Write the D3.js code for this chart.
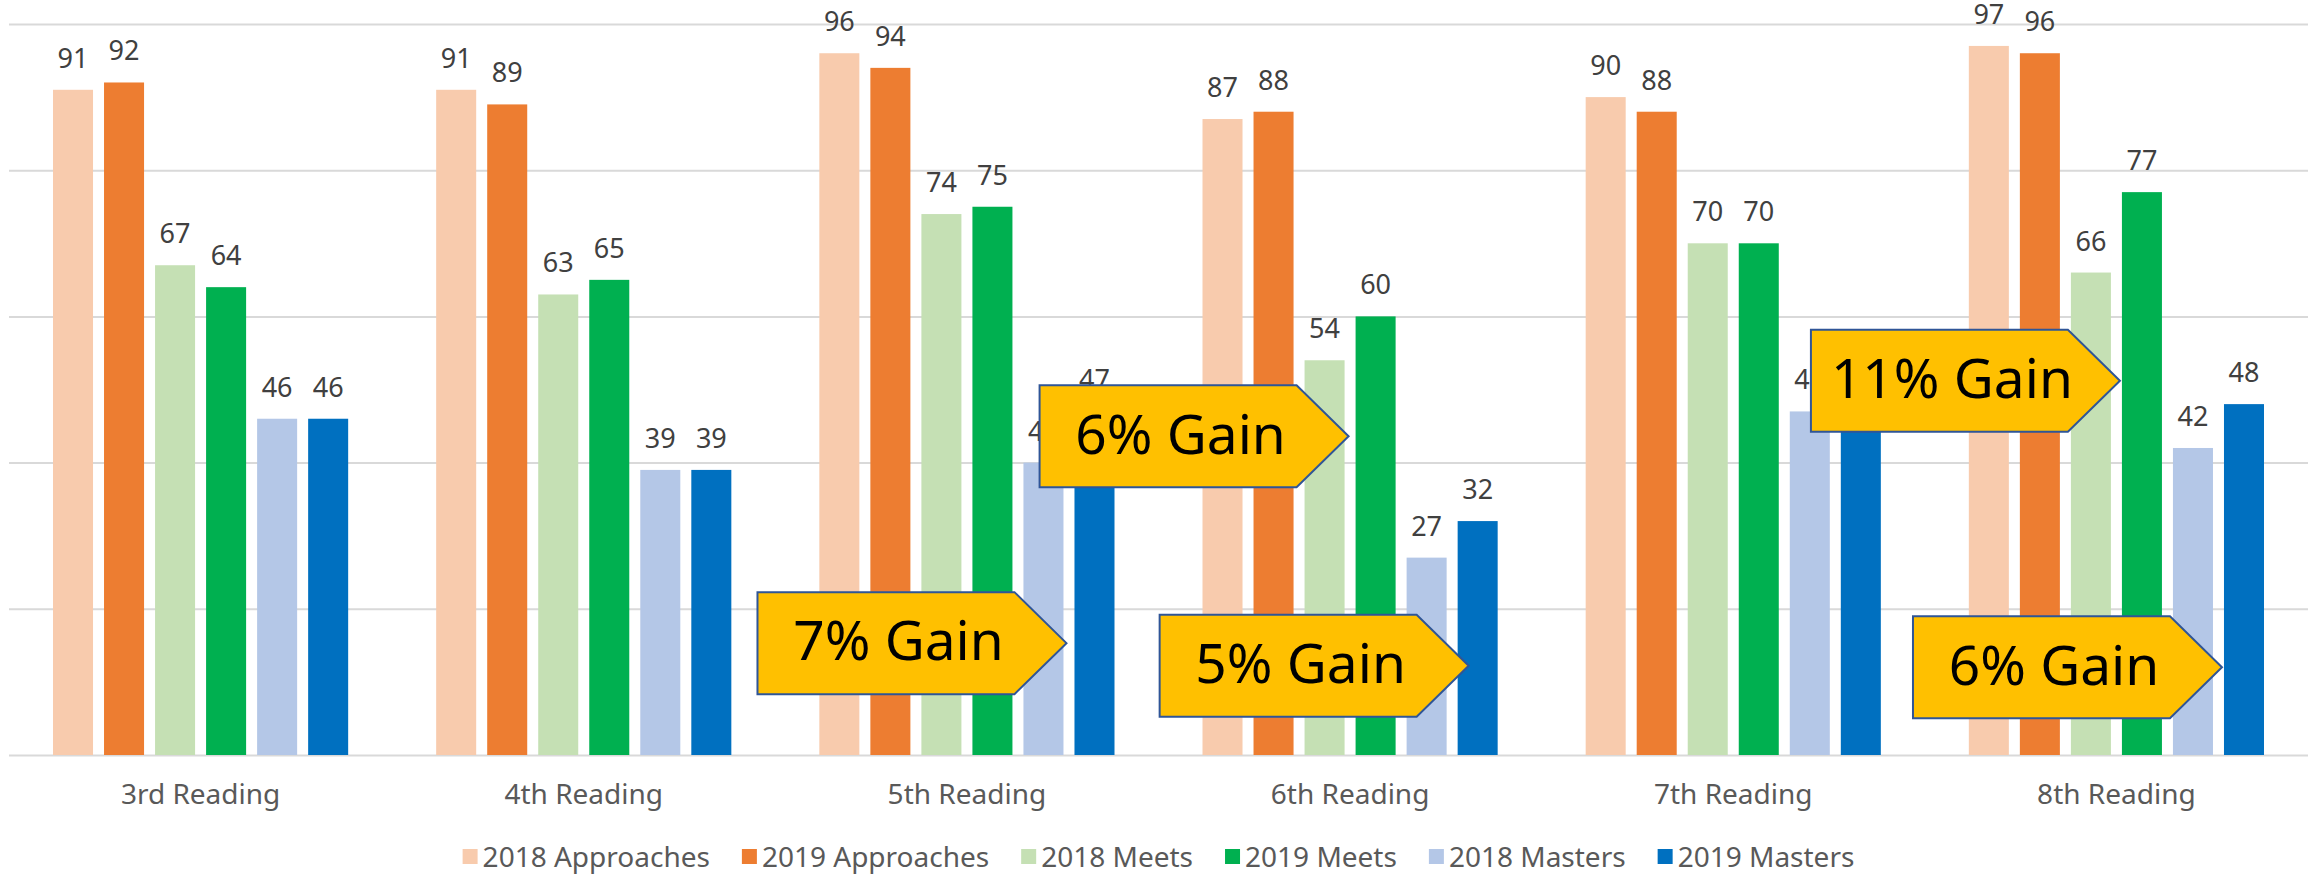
<!DOCTYPE html>
<html>
<head>
<meta charset="utf-8">
<script src="https://cdn.jsdelivr.net/npm/d3@7"></script>
<style>
  body { margin: 0; background: #fff; }
  svg { display: block; font-family: 'Noto Sans', sans-serif; }
</style>
</head>
<body>
<svg id="chart"></svg>
<script>
// categories and series
const categories = ['3rd Reading', '4th Reading', '5th Reading', '6th Reading', '7th Reading', '8th Reading']
const seriesNames = ['2018 Approaches', '2019 Approaches', '2018 Meets', '2019 Meets', '2018 Masters', '2019 Masters']

// values per series, one per grade
const approaches2018 = [91, 91, 96, 87, 90, 97]
const approaches2019 = [92, 89, 94, 88, 88, 96]
const meets2018 = [67, 63, 74, 54, 70, 66]
const meets2019 = [64, 65, 75, 60, 70, 77]
const masters2018 = [46, 39, 40, 27, 47, 42]
const masters2019 = [46, 39, 47, 32, 48, 48]

const yTicks = [0, 20, 40, 60, 80, 100]

// gain callouts: text, grade, bar it points at, value height of the tip
const gainText = ['7% Gain', '6% Gain', '5% Gain', '11% Gain', '6% Gain']
const gainCat = ['5th Reading', '6th Reading', '6th Reading', '8th Reading', '8th Reading']
const gainSeries = ['2019 Masters', '2019 Meets', '2019 Masters', '2019 Meets', '2019 Masters']
const gainAt = [15.3, 43.6, 12.2, 51.2, 12.0]

const colors = ['#F8CBAD', '#ED7D31', '#C5E0B4', '#00B050', '#B4C7E7', '#0070C0']
const seriesValues = [approaches2018, approaches2019, meets2018, meets2019, masters2018, masters2019]

const W = 2318
const H = 876
const margin = { top: 24, right: 10, bottom: 121, left: 9 }

const svg = d3.select('#chart').attr('width', W).attr('height', H)

const x0 = d3.scaleBand().domain(categories).range([margin.left, W - margin.right])
const groupPad = 44
const x1 = d3
  .scaleBand()
  .domain(seriesNames)
  .range([groupPad, x0.bandwidth() - groupPad])
  .paddingInner(0.2157)
const y = d3.scaleLinear().domain([0, 100]).range([H - margin.bottom, margin.top])

// horizontal gridlines (the 0 line doubles as the axis line)
svg
  .append('g')
  .attr('transform', `translate(${margin.left},0)`)
  .style('color', '#D9D9D9')
  .call(
    d3
      .axisLeft(y)
      .tickValues(yTicks)
      .tickSize(-(W - margin.left - margin.right))
      .tickFormat('')
  )
  .call(g => g.select('.domain').remove())
  .selectAll('line')
  .attr('stroke-width', 2)

// category labels
svg
  .append('g')
  .attr('transform', `translate(0,${H - margin.bottom})`)
  .call(d3.axisBottom(x0).tickSize(0).tickPadding(0))
  .call(g => g.select('.domain').remove())
  .selectAll('text')
  .attr('y', 49)
  .attr('dy', 0)
  .style('font-family', "'Noto Sans', sans-serif")
  .style('font-size', '28px')
  .style('fill', '#595959')

// bars
const rows = []
categories.forEach((c, ci) => {
  seriesNames.forEach((s, si) => {
    rows.push({ cat: c, series: s, value: seriesValues[si][ci], color: colors[si] })
  })
})

const barG = svg.append('g')
barG
  .selectAll('rect')
  .data(rows)
  .enter()
  .append('rect')
  .attr('x', d => x0(d.cat) + x1(d.series))
  .attr('y', d => y(d.value))
  .attr('width', x1.bandwidth())
  .attr('height', d => y(0) - y(d.value))
  .attr('fill', d => d.color)

// value labels above the bars
barG
  .selectAll('text')
  .data(rows)
  .enter()
  .append('text')
  .attr('x', d => x0(d.cat) + x1(d.series) + x1.bandwidth() / 2)
  .attr('y', d => y(d.value) - 22)
  .attr('text-anchor', 'middle')
  .style('font-size', '27px')
  .style('fill', '#404040')
  .text(d => d.value)

// legend
const legend = svg.append('g')
const items = legend
  .selectAll('g')
  .data(seriesNames)
  .enter()
  .append('g')
items
  .append('rect')
  .attr('width', 15)
  .attr('height', 15)
  .attr('y', -8)
  .attr('fill', (d, i) => colors[i])
items
  .append('text')
  .attr('x', 20)
  .attr('dy', '0.35em')
  .style('font-size', '28px')
  .style('fill', '#595959')
  .text(d => d)
let lx = 0
items.each(function () {
  const w = d3.select(this).select('text').node().getComputedTextLength()
  d3.select(this).attr('transform', `translate(${lx},0)`)
  lx += 20 + w + 32
})
lx -= 32
legend.attr('transform', `translate(${(margin.left + W - margin.right) / 2 - lx / 2},857)`)

// gain callouts (pentagon arrows pointing at the 2019 bars)
const tipDx = [-8, -7, 11, -2, -2]
const boxW = 257
const arrowW = 52
const boxH = 102
const callouts = svg
  .append('g')
  .selectAll('g')
  .data(gainText)
  .enter()
  .append('g')
  .attr('transform', (d, i) => {
    const tx = x0(gainCat[i]) + x1(gainSeries[i]) + tipDx[i]
    const ty = y(gainAt[i])
    return `translate(${tx - boxW - arrowW},${ty - boxH / 2})`
  })
callouts
  .append('path')
  .attr('d', `M0,0H${boxW}L${boxW + arrowW},${boxH / 2}L${boxW},${boxH}H0Z`)
  .attr('fill', '#FFC000')
  .attr('stroke', '#2F5597')
  .attr('stroke-width', 2)
callouts
  .append('text')
  .attr('x', 141)
  .attr('y', boxH / 2 - 2)
  .attr('dy', '0.35em')
  .attr('text-anchor', 'middle')
  .style('font-size', '55px')
  .style('fill', '#000')
  .text(d => d)
</script>
</body>
</html>
